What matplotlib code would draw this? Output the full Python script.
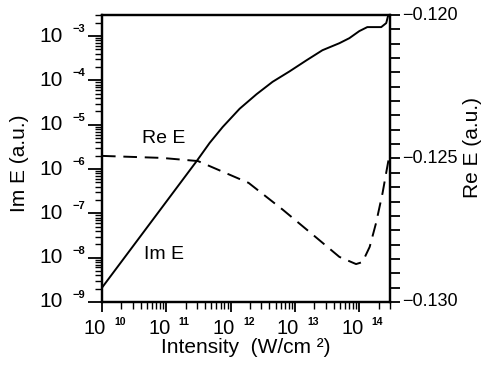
import numpy as np
import matplotlib
matplotlib.use("Agg")
import matplotlib.pyplot as plt
from matplotlib.ticker import LogLocator, NullFormatter, MultipleLocator, FixedLocator

plt.rcParams['font.family'] = ['Liberation Sans', 'DejaVu Sans']

# Im E (left, log) vs intensity
im_intensity = [1e10, 2.97e11, 4.72e11, 7.52e11, 1.38e12, 2.53e12, 4.48e12, 8.22e12, 1.51e13,
                2.67e13, 4.9e13, 7.0e13, 1.0e14, 1.33e14, 2.19e14, 2.62e14, 2.82e14, 2.95e14]
im_E = [2.1e-9, 1.52e-6, 3.9e-6, 8.9e-6, 2.3e-5, 4.9e-5, 9.3e-5, 1.6e-4, 2.85e-4,
        4.81e-4, 6.93e-4, 9.0e-4, 1.3e-3, 1.6e-3, 1.6e-3, 1.97e-3, 3.0e-3, 3.6e-3]

# Re E (right, linear) vs intensity
re_intensity = [1e10, 8.5e10, 3.1e11, 1.9e12, 6.5e12, 2.1e13, 4.9e13, 8.9e13, 1.12e14, 1.45e14,
                1.82e14, 2.3e14, 2.7e14, 2.9e14]
re_E = [-0.12491, -0.12498, -0.12509, -0.12585, -0.12679, -0.12774, -0.12843, -0.12868, -0.12861,
        -0.12808, -0.12725, -0.12620, -0.12533, -0.12495]

xlim = (1e10, 3e14)
ylim_left = (1e-9, 3e-3)
ylim_right = (-0.130, -0.120)
x_decades = [10, 11, 12, 13, 14]
y_decades = [-9, -8, -7, -6, -5, -4, -3]
right_labels = [-0.130, -0.125, -0.120]

fig = plt.figure(figsize=(4.92, 3.66), dpi=100)
ax = fig.add_axes([0.2073, 0.175, 0.5854, 0.784])
ax2 = ax.twinx()

ax.plot(im_intensity, im_E, color='black', lw=1.4)
ax.set_xscale('log')
ax.set_yscale('log')
ax.set_xlim(*xlim)
ax.set_ylim(*ylim_left)

ax2.plot(re_intensity, re_E, color='black', lw=1.4, dashes=(7, 4))
ax2.set_ylim(*ylim_right)

for a in (ax, ax2):
    for s in a.spines.values():
        s.set_linewidth(1.6)

# left axis ticks
ax.yaxis.set_major_locator(FixedLocator([10.0 ** e for e in y_decades]))
ax.yaxis.set_minor_locator(LogLocator(base=10, subs=np.arange(2, 10), numticks=20))
ax.yaxis.set_major_formatter(NullFormatter())
ax.yaxis.set_minor_formatter(NullFormatter())
ax.tick_params(axis='y', which='major', direction='out', length=10, width=1.3)
ax.tick_params(axis='y', which='minor', direction='out', length=5, width=1.0)

# bottom axis ticks
ax.xaxis.set_major_locator(FixedLocator([10.0 ** e for e in x_decades]))
ax.xaxis.set_minor_locator(LogLocator(base=10, subs=np.arange(2, 10), numticks=20))
ax.xaxis.set_major_formatter(NullFormatter())
ax.xaxis.set_minor_formatter(NullFormatter())
ax.tick_params(axis='x', which='major', direction='out', length=7, width=1.3)
ax.tick_params(axis='x', which='minor', direction='out', length=5, width=1.0)

# right axis ticks
ax2.yaxis.set_major_locator(FixedLocator(right_labels))
ax2.yaxis.set_minor_locator(MultipleLocator(0.0005))
ax2.yaxis.set_major_formatter(NullFormatter())
ax2.tick_params(axis='y', which='both', direction='out', length=7, width=1.3)

# tick labels drawn as "10" plus a small exponent
for e in y_decades:
    v = 10.0 ** e
    ax.annotate('10', xy=(0, v), xycoords=('axes fraction', 'data'), xytext=(-28.5, 0),
                textcoords='offset points', ha='right', va='center', fontsize=15)
    ax.annotate('\u2212' + str(-e), xy=(0, v), xycoords=('axes fraction', 'data'), xytext=(-21.5, 5),
                textcoords='offset points', ha='left', va='center', fontsize=8, fontweight='bold')
for e in x_decades:
    v = 10.0 ** e
    ax.annotate('10', xy=(v, 0), xycoords=('data', 'axes fraction'), xytext=(-5, -12),
                textcoords='offset points', ha='center', va='top', fontsize=14.5)
    ax.annotate(str(e), xy=(v, 0), xycoords=('data', 'axes fraction'), xytext=(9, -11),
                textcoords='offset points', ha='left', va='top', fontsize=7.5, fontweight='bold')
for v in right_labels:
    ax2.annotate('\u2212' + f'{-v:.3f}', xy=(1, v), xycoords=('axes fraction', 'data'), xytext=(8.5, 0),
                 textcoords='offset points', ha='left', va='center', fontsize=13)

ax.set_xlabel('Intensity  (W/cm \u00b2)', fontsize=15)
ax.xaxis.set_label_coords(0.5, -0.124)
ax.set_ylabel('Im E (a.u.)', fontsize=15)
ax.yaxis.set_label_coords(-0.255, 0.484)
ax2.set_ylabel('Re E (a.u.)', fontsize=15)
ax2.yaxis.set_label_coords(1.255, 0.54)

ax.text(9.2e10, 4.8e-6, 'Re E', fontsize=14, ha='center', va='center')
ax.text(9.2e10, 1.18e-8, 'Im E', fontsize=14, ha='center', va='center')

fig.savefig('out.png', dpi=100)
